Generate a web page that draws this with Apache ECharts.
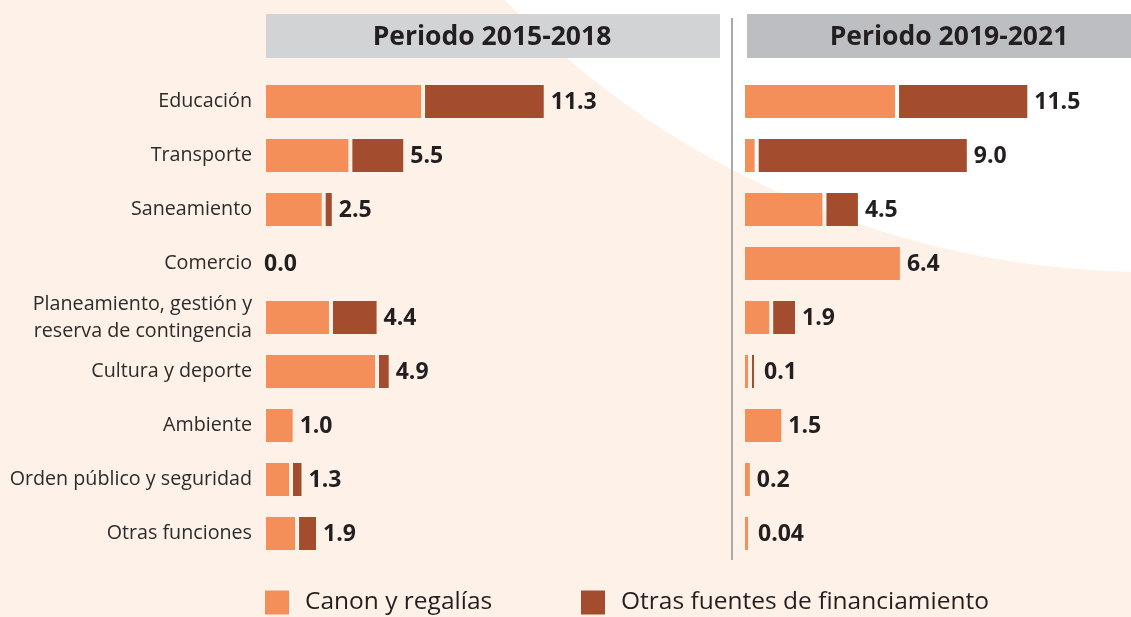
<!DOCTYPE html>
<html>
<head>
<meta charset="utf-8">
<script src="https://cdn.jsdelivr.net/npm/echarts@6/dist/echarts.min.js"></script>
<style>
  html, body { margin: 0; padding: 0; background: #fef1e8; }
  #chart { width: 1131px; height: 617px; }
</style>
</head>
<body>
<div id="chart"></div>
<script>
// categorías (de arriba hacia abajo)
const categories = ['Educación', 'Transporte', 'Saneamiento', 'Comercio',
  'Planeamiento, gestión y\nreserva de contingencia', 'Cultura y deporte',
  'Ambiente', 'Orden público y seguridad', 'Otras funciones'];

// Periodo 2015-2018
const canon1518 = [6.4, 3.4, 2.3, 0, 2.6, 4.5, 1.1, 0.95, 1.2];
const otras1518 = [4.9, 2.1, 0.25, 0, 1.8, 0.4, 0, 0.35, 0.7];
const total1518 = ['11.3', '5.5', '2.5', '0.0', '4.4', '4.9', '1.0', '1.3', '1.9'];

// Periodo 2019-2021
const canon1921 = [6.2, 0.4, 3.2, 6.4, 1.0, 0.06, 1.5, 0.2, 0.04];
const otras1921 = [5.3, 8.6, 1.3, 0, 0.9, 0.04, 0, 0, 0];
const total1921 = ['11.5', '9.0', '4.5', '6.4', '1.9', '0.1', '1.5', '0.2', '0.04'];

const headers = ['Periodo 2015-2018', 'Periodo 2019-2021'];
const legendNames = ['Canon y regalías', 'Otras fuentes de financiamiento'];

const ORANGE = '#f58f5a';
const BROWN = '#a34c2e';
const TEXT = '#231f20';
const FONT = '"Open Sans", "Noto Sans", sans-serif';
const BAR_H = 33;
const GAP = 4;

const chart = echarts.init(document.getElementById('chart'));

// fondo blanco curvo (arriba a la derecha)
const curve = [];
for (let i = 0; i <= 60; i++) {
  const t = Math.PI / 2 + (Math.PI / 2) * i / 60;
  curve.push([1150 + 889 * Math.cos(t), -600 + 872 * Math.sin(t)]);
}
curve.push([1150, -600]);

function orangeEnd(api, v, idx) {
  const p0 = api.coord([0, idx]);
  const p1 = api.coord([v, idx]);
  if (v <= 0) return p0[0];
  return p0[0] + Math.max(p1[0] - p0[0], 3);
}

function renderCanon(params, api) {
  const idx = api.value(2);
  const v = api.value(1);
  if (v <= 0) return;
  const p0 = api.coord([0, idx]);
  const end = orangeEnd(api, v, idx);
  return {
    type: 'rect',
    shape: { x: p0[0], y: p0[1] - BAR_H / 2, width: end - p0[0], height: BAR_H },
    style: { fill: ORANGE }
  };
}

function makeRenderOtras(totals) {
  return function (params, api) {
    const idx = api.value(2);
    const o = api.value(0);
    const b = api.value(1);
    const p0 = api.coord([0, idx]);
    let end = orangeEnd(api, o, idx);
    const children = [];
    if (b > 0) {
      const start = end + GAP;
      const w = Math.max(api.coord([o + b, idx])[0] - api.coord([o, idx])[0], 2);
      children.push({
        type: 'rect',
        shape: { x: start, y: p0[1] - BAR_H / 2, width: w, height: BAR_H },
        style: { fill: BROWN }
      });
      end = start + w;
    }
    // valores muy pequeños llevan la etiqueta algo más separada
    const total = o + b;
    const off = total <= 0 ? -2 : (total < 0.15 ? 10 : 7);
    children.push({
      type: 'text',
      x: end + off,
      y: p0[1] + 1,
      style: {
        text: totals[params.dataIndex],
        fill: TEXT,
        fontFamily: FONT,
        fontWeight: 'bold',
        fontSize: 23,
        align: 'left',
        verticalAlign: 'middle'
      }
    });
    return { type: 'group', children: children };
  };
}

const option = {
  backgroundColor: '#fef1e8',
  animation: false,
  graphic: [
    { type: 'polygon', z: 0, shape: { points: curve }, style: { fill: '#ffffff' } },
    { type: 'rect', z: 1, shape: { x: 266, y: 14, width: 454, height: 44 }, style: { fill: '#d2d3d5' } },
    { type: 'rect', z: 1, shape: { x: 747, y: 14, width: 390, height: 44 }, style: { fill: '#bdbec2' } },
    { type: 'line', z: 1, shape: { x1: 732, y1: 18, x2: 732, y2: 560 }, style: { stroke: '#a9a9ab', lineWidth: 2 } },
    {
      type: 'text', z: 2, x: 492, y: 37,
      style: { text: headers[0], fill: TEXT, fontFamily: FONT, fontWeight: 'bold', fontSize: 26.5, align: 'center', verticalAlign: 'middle' }
    },
    {
      type: 'text', z: 2, x: 949, y: 37,
      style: { text: headers[1], fill: TEXT, fontFamily: FONT, fontWeight: 'bold', fontSize: 26.5, align: 'center', verticalAlign: 'middle' }
    }
  ],
  legend: [
    {
      left: 265, top: 590, padding: 0, icon: 'rect', itemWidth: 24, itemHeight: 24,
      selectedMode: false, data: [legendNames[0]],
      textStyle: { fontFamily: FONT, fontSize: 24.5, color: TEXT, padding: [0, 0, 0, 11] }
    },
    {
      left: 581, top: 590, padding: 0, icon: 'rect', itemWidth: 24, itemHeight: 24,
      selectedMode: false, data: [legendNames[1]],
      textStyle: { fontFamily: FONT, fontSize: 24.5, color: TEXT, padding: [0, 0, 0, 11] }
    }
  ],
  grid: [
    { left: 266, top: 74.5, width: 453, height: 486 },
    { left: 745, top: 74.5, width: 386, height: 486 }
  ],
  xAxis: [
    { gridIndex: 0, type: 'value', min: 0, max: 18.7, show: false },
    { gridIndex: 1, type: 'value', min: 0, max: 15.95, show: false }
  ],
  yAxis: [
    {
      gridIndex: 0, type: 'category', inverse: true, data: categories,
      axisLine: { show: false }, axisTick: { show: false },
      axisLabel: { margin: 14, fontFamily: FONT, fontSize: 19.7, color: '#2b2b2b', lineHeight: 27, align: 'right' }
    },
    {
      gridIndex: 1, type: 'category', inverse: true, data: categories,
      axisLine: { show: false }, axisTick: { show: false }, axisLabel: { show: false }
    }
  ],
  series: [
    {
      name: legendNames[0], type: 'custom', xAxisIndex: 0, yAxisIndex: 0,
      itemStyle: { color: ORANGE }, encode: { x: 1, y: 2 },
      data: canon1518.map((v, i) => [0, v, i]),
      renderItem: renderCanon
    },
    {
      name: legendNames[1], type: 'custom', xAxisIndex: 0, yAxisIndex: 0,
      itemStyle: { color: BROWN }, encode: { x: [0, 1], y: 2 },
      data: otras1518.map((v, i) => [canon1518[i], v, i]),
      renderItem: makeRenderOtras(total1518)
    },
    {
      name: legendNames[0], type: 'custom', xAxisIndex: 1, yAxisIndex: 1,
      itemStyle: { color: ORANGE }, encode: { x: 1, y: 2 },
      data: canon1921.map((v, i) => [0, v, i]),
      renderItem: renderCanon
    },
    {
      name: legendNames[1], type: 'custom', xAxisIndex: 1, yAxisIndex: 1,
      itemStyle: { color: BROWN }, encode: { x: [0, 1], y: 2 },
      data: otras1921.map((v, i) => [canon1921[i], v, i]),
      renderItem: makeRenderOtras(total1921)
    }
  ]
};

chart.setOption(option);
</script>
</body>
</html>
